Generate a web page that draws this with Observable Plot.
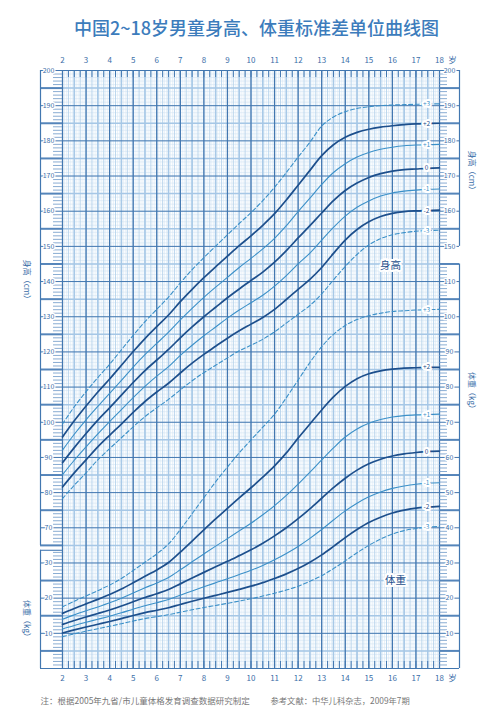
<!DOCTYPE html>
<html><head><meta charset="utf-8">
<script src="https://cdn.jsdelivr.net/npm/d3@7"></script>
<script src="https://cdn.jsdelivr.net/npm/@observablehq/plot@0.6"></script>
<style>html,body{margin:0;padding:0;background:#fff;} svg{display:block;}</style>
</head><body><div id="chart"></div>
<script>
// ---------- data ----------
const ages = [2,2.5,3,3.5,4,4.5,5,5.5,6,6.5,7,7.5,8,8.5,9,9.5,10,10.5,11,11.5,12,12.5,13,13.5,14,14.5,15,15.5,16,16.5,17,17.5,18];
const sdNames = ["-3","-2","-1","0","+1","+2","+3"];
// height (cm)
const hM3 = [78.3,82.1,85.6,89.3,92.5,95.6,98.7,101.6,104.1,106.5,109.2,111.8,114.1,116.2,118.3,120.3,121.9,123.6,125.7,128.2,130.7,133.2,136.5,140.5,144.3,147.7,150.4,152.2,153.3,153.9,154.3,154.5,154.6];
const hM2 = [81.6,85.6,89.3,93.0,96.3,99.5,102.8,105.9,108.6,111.1,114.0,116.8,119.3,121.6,123.9,126.0,127.9,129.8,132.1,134.9,137.8,140.6,144.0,148.0,151.8,154.8,157.0,158.5,159.4,159.9,160.1,160.2,160.3];
const hM1 = [85.1,89.2,93.0,96.7,100.2,103.6,107.0,110.2,113.1,115.8,119.0,121.9,124.6,127.1,129.6,131.9,134.0,136.1,138.7,141.7,145.0,148.1,151.8,155.4,158.6,161.1,162.9,164.3,165.2,165.7,166.0,166.2,166.3];
const h0  = [88.5,92.8,96.8,100.6,104.1,107.7,111.3,114.7,117.7,120.7,124.0,127.1,130.0,132.7,135.4,137.9,140.3,142.7,145.5,148.8,152.4,155.9,159.5,163.0,165.9,168.0,169.6,170.7,171.4,171.8,172.0,172.2,172.3];
const hP1 = [92.1,96.6,100.7,104.5,108.2,111.9,115.7,119.2,122.4,125.6,129.1,132.4,135.5,138.4,141.2,144.0,146.6,149.3,152.3,155.9,159.9,163.7,167.6,171.0,173.5,175.4,176.7,177.6,178.2,178.6,178.8,178.9,179.0];
const hP2 = [95.8,100.4,104.6,108.6,112.3,116.2,120.1,123.8,127.2,130.5,134.3,137.8,141.1,144.2,147.2,150.2,153.0,156.0,159.3,163.2,167.4,171.6,175.8,178.9,181.0,182.4,183.3,183.9,184.3,184.6,184.8,184.9,185.0];
const hP3 = [99.5,104.4,108.7,112.7,116.5,120.6,124.7,128.6,132.1,135.6,139.6,143.4,146.8,150.1,153.3,156.5,159.6,163.0,166.8,171.0,175.4,179.6,184.2,186.8,188.3,189.2,189.7,190.0,190.2,190.3,190.4,190.5,190.5];
// weight (kg)
const wM3 = [9.06,9.86,10.61,11.31,12.01,12.74,13.50,14.18,14.74,15.30,16.01,16.70,17.33,17.93,18.53,19.17,19.81,20.6,21.4,22.3,23.4,24.8,26.4,28.4,30.6,32.9,35.0,36.8,38.2,39.2,39.8,40.2,40.4];
const wM2 = [10.09,10.97,11.79,12.57,13.35,14.18,15.06,15.87,16.56,17.27,18.20,19.11,19.97,20.79,21.62,22.50,23.40,24.4,25.6,26.9,28.4,30.2,32.3,34.7,37.2,39.5,41.5,43.0,44.2,45.0,45.6,45.9,46.1];
const wM1 = [11.24,12.22,13.13,14.00,14.88,15.84,16.87,17.85,18.71,19.62,20.83,22.06,23.23,24.37,25.50,26.70,27.93,29.3,30.9,32.7,34.7,37.0,39.5,42.2,44.8,47.0,48.8,50.2,51.2,51.9,52.4,52.7,52.8];
const w0  = [12.54,13.64,14.65,15.63,16.64,17.75,18.98,20.18,21.26,22.45,24.06,25.72,27.33,28.91,30.46,32.09,33.74,35.6,37.7,40.0,42.6,45.4,48.4,51.4,54.1,56.4,58.2,59.5,60.4,61.0,61.4,61.7,61.8];
const wP1 = [14.01,15.24,16.39,17.50,18.67,19.98,21.46,22.94,24.32,25.89,28.05,30.33,32.57,34.78,36.92,39.12,41.31,43.7,46.3,49.2,52.4,55.8,59.3,62.7,65.8,68.1,69.7,70.8,71.5,71.9,72.1,72.2,72.3];
const wP2 = [15.67,17.06,18.37,19.65,21.01,22.57,24.38,26.24,28.03,30.13,33.08,36.24,39.41,42.54,45.52,48.51,51.38,54.4,57.6,61.3,65.5,69.5,73.5,77.2,80.2,82.4,83.8,84.6,85.1,85.4,85.5,85.6,85.6];
const wP3 = [17.54,19.13,20.64,22.13,23.73,25.61,27.85,30.22,32.57,35.41,39.50,43.99,48.57,53.08,57.28,61.30,64.98,68.6,72.3,77.0,82.0,87.0,91.5,95.0,97.5,99.2,100.3,101.0,101.5,101.7,101.9,102.0,102.1];
// tick labels
const ageTicks = [2,3,4,5,6,7,8,9,10,11,12,13,14,15,16,17,18];
const heightTicksLeft = [70,80,90,100,110,120,130,140,150,160,170,180,190,200];
const weightTicksLeft = [10,20,30];
const heightTicksRight = [150,160,170,180,190,200];
const weightTicksRight = [10,20,30,40,50,60,70,80,90,100,110];
const titleText = "中国2~18岁男童身高、体重标准差单位曲线图";
const noteText = "注：根据2005年九省/市儿童体格发育调查数据研究制定";
const refText = "参考文献：中华儿科杂志，2009年7期";

// ---------- layout helpers ----------
const WOFF = 30; // weight kg -> shared vertical unit
const X = px => 2 + (px - 62) * 16 / 377;
const Y = px => 30 + (668 - px) * 170 / 598;
const XL = X(40), XR = X(459);

const rows = [];
[hM3,hM2,hM1,h0,hP1,hP2,hP3].forEach((arr,i)=>arr.forEach((v,j)=>rows.push({kind:"h",sd:sdNames[i],age:ages[j],u:v})));
[wM3,wM2,wM1,w0,wP1,wP2,wP3].forEach((arr,i)=>arr.forEach((v,j)=>rows.push({kind:"w",sd:sdNames[i],age:ages[j],u:v+WOFF})));
const labelRows = rows.filter(d => d.age === 17.5);

const dark = "#1d4f8c", light = "#3b90c8", gridDark = "#4277b0", tickCol = "#3b6ea8";
const font = "'Noto Sans CJK SC','Noto Sans',sans-serif";

const monthLines = d3.range(0, 16*12+1).map(i => 2 + i/12);
const quarterLines = d3.range(0, 16*4+1).map(i => 2 + i/4);
const halfLines = d3.range(0, 16).map(i => 2.5 + i);
const unitLines = d3.range(30, 201);
const u5 = unitLines.filter(u => u % 5 === 0 && u % 10 !== 0);
const u10 = unitLines.filter(u => u % 10 === 0);

const leftMinor = unitLines.filter(u => u % 5 !== 0 && (u < 64 || u > 65));
const rightMinor = unitLines.filter(u => u % 5 !== 0 && (u < 145 || u > 150));
const left5 = u5;
const right5 = u5.filter(u => u < 145 || u > 150);
const left10 = u10;
const right10 = u10.filter(u => u <= 140 || u >= 150);

const isDark = d => d.sd === "0" || d.sd === "+2" || d.sd === "-2";
const isLight = d => d.sd === "+1" || d.sd === "-1";
const isDash = d => d.sd === "+3" || d.sd === "-3";

const chart = Plot.plot({
  width: 504, height: 721,
  marginTop: 70, marginBottom: 53, marginLeft: 62, marginRight: 65,
  x: {domain: [2, 18], axis: null},
  y: {domain: [30, 200], axis: null},
  style: {fontFamily: font, background: "white", overflow: "visible"},
  marks: [
    // grid
    Plot.ruleX(monthLines, {x: d => d, y1: 30, y2: 200, stroke: "#d9e9f6", strokeWidth: 0.6}),
    Plot.ruleY(unitLines, {y: d => d, x1: 2, x2: 18, stroke: "#d3e4f3", strokeWidth: 0.6}),
    Plot.ruleX(quarterLines, {x: d => d, y1: 30, y2: 200, stroke: "#b3d0ea", strokeWidth: 0.8}),
    Plot.ruleX(halfLines, {x: d => d, y1: 30, y2: 200, stroke: "#a8c9e7", strokeWidth: 1.6}),
    Plot.ruleY(u5, {y: d => d, x1: 2, x2: 18, stroke: "#a6c7e6", strokeWidth: 1.5}),
    Plot.ruleY(u10, {y: d => d, x1: 2, x2: 18, stroke: gridDark, strokeWidth: 1}),
    Plot.ruleX(ageTicks, {x: d => d, y1: 30, y2: 200, stroke: gridDark, strokeWidth: 1.3}),
    Plot.ruleX(quarterLines, {x: d => d, y1: 200, y2: Y(77), stroke: gridDark, strokeWidth: 1}),
    Plot.ruleX(quarterLines, {x: d => d, y1: 30, y2: Y(661), stroke: gridDark, strokeWidth: 1}),
    // left strip
    Plot.ruleY(leftMinor, {y: d => d, x1: X(53), x2: 2, stroke: "#6b97c6", strokeWidth: 0.8}),
    Plot.ruleY(left5, {y: d => d, x1: XL, x2: 2, stroke: "#5585ba", strokeWidth: 2}),
    Plot.ruleY(left10, {y: d => d, x1: XL, x2: 2, stroke: gridDark, strokeWidth: 1}),
    Plot.ruleY([63.6], {y: d => d, x1: XL, x2: 2, stroke: "#5585ba", strokeWidth: 1.2}),
    // right strip
    Plot.ruleY(rightMinor, {y: d => d, x1: 18, x2: X(447), stroke: "#6b97c6", strokeWidth: 0.8}),
    Plot.ruleY(right5, {y: d => d, x1: 18, x2: XR, stroke: "#5585ba", strokeWidth: 2}),
    Plot.ruleY(right10, {y: d => d, x1: 18, x2: XR, stroke: gridDark, strokeWidth: 1}),
    Plot.ruleY([145], {y: d => d, x1: 18, x2: XR, stroke: "#5585ba", strokeWidth: 2}),
    // frame
    Plot.ruleX([XL], {x: d => d, y1: 65, y2: 200, stroke: gridDark, strokeWidth: 1.2}),
    Plot.ruleX([XL], {x: d => d, y1: 30, y2: 63.6, stroke: gridDark, strokeWidth: 1.2}),
    Plot.ruleX([XR], {x: d => d, y1: 150, y2: 200, stroke: gridDark, strokeWidth: 1.2}),
    Plot.ruleX([XR], {x: d => d, y1: 30, y2: 145, stroke: gridDark, strokeWidth: 1.2}),
    Plot.ruleY([200, 30], {y: d => d, x1: XL, x2: XR, stroke: gridDark, strokeWidth: 1.2}),
    // curves
    Plot.line(rows.filter(isLight), {x: "age", y: "u", z: d => d.kind + d.sd, stroke: light, strokeWidth: 1.1, curve: "catmull-rom"}),
    Plot.line(rows.filter(isDash), {x: "age", y: "u", z: d => d.kind + d.sd, stroke: light, strokeWidth: 1.1, strokeDasharray: "4,2.5", curve: "catmull-rom"}),
    Plot.line(rows.filter(isDark), {x: "age", y: "u", z: d => d.kind + d.sd, stroke: dark, strokeWidth: 1.7, curve: "catmull-rom"}),
    // SD labels
    Plot.text(labelRows, {x: X(426), y: "u", text: "sd", fill: d => isDark(d) ? dark : light, stroke: "white", strokeWidth: 4, fontSize: 6.5}),
    // axis tick labels
    Plot.text(heightTicksLeft, {x: X(48), y: d => d, text: d => String(d), fill: tickCol, stroke: "white", strokeWidth: 2.5, fontSize: 7}),
    Plot.text(weightTicksLeft, {x: X(48), y: d => d + WOFF, text: d => String(d), fill: tickCol, stroke: "white", strokeWidth: 2.5, fontSize: 7}),
    Plot.text(heightTicksRight, {x: X(449), y: d => d, text: d => String(d), fill: tickCol, stroke: "white", strokeWidth: 2.5, fontSize: 7}),
    Plot.text(weightTicksRight, {x: X(449), y: d => d + WOFF, text: d => String(d), fill: tickCol, stroke: "white", strokeWidth: 2.5, fontSize: 7}),
    Plot.text(ageTicks, {x: d => d, y: Y(60), text: d => String(d), fill: tickCol, fontSize: 8}),
    Plot.text(ageTicks, {x: d => d, y: Y(678), text: d => String(d), fill: tickCol, fontSize: 8}),
    Plot.text(["岁"], {x: X(452), y: Y(60), text: d => d, fill: tickCol, fontSize: 8.5}),
    Plot.text(["岁"], {x: X(452), y: Y(678), text: d => d, fill: tickCol, fontSize: 8.5}),
    // axis titles
    Plot.text(["身高（cm）"], {x: X(26), y: Y(281), text: d => d, rotate: 90, fill: tickCol, fontSize: 8}),
    Plot.text(["体重（kg）"], {x: X(26), y: Y(620), text: d => d, rotate: 90, fill: tickCol, fontSize: 8}),
    Plot.text(["身高（cm）"], {x: X(471), y: Y(172), text: d => d, rotate: 90, fill: tickCol, fontSize: 8}),
    Plot.text(["体重（kg）"], {x: X(471), y: Y(392), text: d => d, rotate: 90, fill: tickCol, fontSize: 8}),
    // in-chart labels
    Plot.text(["身高"], {x: X(390), y: Y(265), text: d => d, fill: dark, stroke: "white", strokeWidth: 4, fontSize: 10.5}),
    Plot.text(["体重"], {x: X(395), y: Y(580), text: d => d, fill: dark, stroke: "white", strokeWidth: 4, fontSize: 10.5}),
    // title & notes
    Plot.text([titleText], {frameAnchor: "top", dx: 5.5, dy: -48, text: d => d, fill: "#3c7cbc", fontSize: 18, fontWeight: 500}),
    Plot.text([noteText], {frameAnchor: "bottom-left", dx: -22, dy: 35, textAnchor: "start", text: d => d, fill: "#777", fontSize: 8.5}),
    Plot.text([refText], {frameAnchor: "bottom-left", dx: 208, dy: 35, textAnchor: "start", text: d => d, fill: "#777", fontSize: 8.3})
  ]
});
document.getElementById("chart").appendChild(chart);
</script>
</body></html>
